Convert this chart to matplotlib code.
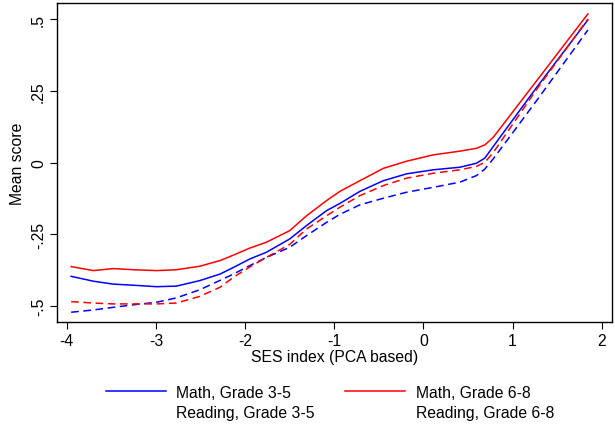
import matplotlib
matplotlib.use("Agg")
import matplotlib.pyplot as plt

plt.rcParams['font.family'] = ['Liberation Sans', 'DejaVu Sans']

# SES index grid (PCA based) and mean scores
ses = [-3.95, -3.7, -3.48, -3.25, -2.99, -2.77, -2.51, -2.28, -2.13, -1.95,
       -1.76, -1.5, -1.31, -1.085, -0.936, -0.712, -0.45, -0.188, 0.11, 0.409,
       0.596, 0.69, 0.783, 1.27, 1.845]
math_35 = [-0.396, -0.413, -0.423, -0.427, -0.432, -0.430, -0.411, -0.388, -0.365, -0.336,
           -0.312, -0.266, -0.219, -0.167, -0.142, -0.100, -0.063, -0.039, -0.025, -0.016,
           -0.002, 0.016, 0.056, 0.262, 0.497]
math_68 = [-0.362, -0.376, -0.369, -0.373, -0.376, -0.373, -0.361, -0.341, -0.322, -0.298,
           -0.277, -0.237, -0.185, -0.132, -0.100, -0.063, -0.020, 0.005, 0.027, 0.040,
           0.050, 0.062, 0.088, 0.285, 0.518]
read_35 = [-0.521, -0.513, -0.504, -0.495, -0.486, -0.471, -0.443, -0.410, -0.388, -0.359,
           -0.330, -0.295, -0.254, -0.208, -0.180, -0.147, -0.124, -0.103, -0.086, -0.068,
           -0.045, -0.022, 0.013, 0.216, 0.462]
read_68 = [-0.484, -0.489, -0.492, -0.492, -0.492, -0.489, -0.466, -0.434, -0.399, -0.364,
           -0.330, -0.285, -0.231, -0.185, -0.155, -0.115, -0.080, -0.054, -0.037, -0.025,
           -0.013, 0.001, 0.035, 0.255, 0.500]

xticks = [-4, -3, -2, -1, 0, 1, 2]
yticks = [-0.5, -0.25, 0, 0.25, 0.5]
ytick_labels = ['-.5', '-.25', '0', '.25', '.5']

fs = 11.3
fig = plt.figure(figsize=(6.15, 4.27), dpi=100)
ax = fig.add_axes([57 / 615, 1 - 323 / 427, (611.7 - 57) / 615, (323 - 4) / 427])

dash = (0, (5, 3))
l1, = ax.plot(ses, math_35, color='#0000ff', lw=1.1, label='Math, Grade 3-5')
l2, = ax.plot(ses, math_68, color='#ff0000', lw=1.1, label='Math, Grade 6-8')
l3, = ax.plot(ses, read_35, color='#0000ff', lw=1.1, ls=dash, label='Reading, Grade 3-5')
l4, = ax.plot(ses, read_68, color='#ff0000', lw=1.1, ls=dash, label='Reading, Grade 6-8')

ax.set_xlim(-4.109, 2.112)
ax.set_ylim(-0.555, 0.556)
ax.set_xticks(xticks)
ax.set_xticklabels([str(t) for t in xticks])
ax.set_yticks(yticks)
ax.set_yticklabels(ytick_labels, rotation=90, va='center')
ax.tick_params(labelsize=fs, length=5, width=0.8, pad=3)
for s in ax.spines.values():
    s.set_linewidth(1.0)

ax.set_xlabel('SES index (PCA based)', fontsize=fs, labelpad=1)
ax.set_ylabel('Mean score', fontsize=fs, labelpad=4)

# column-wise fill: Math 3-5 / Reading 3-5 | Math 6-8 / Reading 6-8
leg = fig.legend([l1, l3, l2, l4],
                 [l1.get_label(), l3.get_label(), l2.get_label(), l4.get_label()],
                 ncol=2, frameon=False, fontsize=fs, loc='center',
                 bbox_to_anchor=(330 / 615, 1 - 403.5 / 427), handlelength=3.82,
                 handletextpad=0.65, columnspacing=1.95, labelspacing=0.35)
# the dashed keys are not drawn in the original
for h in leg.legend_handles[1::2]:
    h.set_alpha(0)

fig.savefig('out.png', dpi=100)
